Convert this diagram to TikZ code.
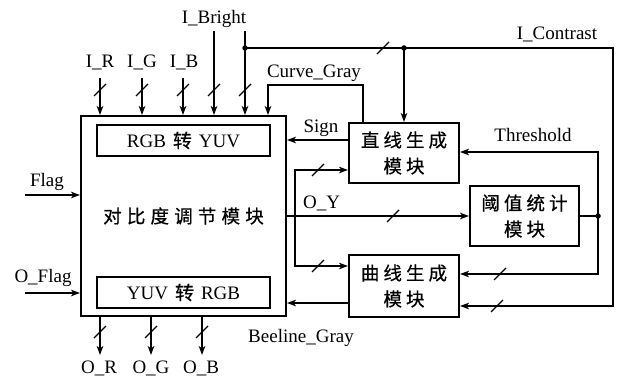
\documentclass[tikz,border=0pt]{standalone}
\usepackage{fontspec}
\setmainfont{Liberation Serif}
\newfontfamily\cjk[LetterSpace=22,FakeBold=0.6]{Noto Sans CJK SC}
\newfontfamily\cjkm[LetterSpace=28,FakeBold=0.6]{Noto Sans CJK SC}
\newfontfamily\cjkn[FakeBold=0.6]{Noto Sans CJK SC}
\usetikzlibrary{arrows.meta,calc}
\tikzset{
  arr/.style={-{Stealth[length=9pt,width=6.5pt,inset=2.5pt]}},
  box/.style={draw, line width=2pt, inner sep=0pt, align=center},
  lbl/.style={inner sep=0pt, anchor=base, font=\fontsize{19}{21}\selectfont},
  zh/.style={font=\fontsize{18.5}{26}\selectfont\cjk},
  dotn/.style={circle, fill, inner sep=0pt, minimum size=5.5pt},
  slashmark/.pic={\draw[line width=1.3pt] (-6,6) -- (6,-6);}
}
\begin{document}
\begin{tikzpicture}[x=1pt,y=-1pt,line width=1.8pt]
\useasboundingbox (0,0) rectangle (620,379);
% blocks
\node[box, minimum width=205pt, minimum height=200pt, font=\fontsize{18.5}{26}\selectfont\cjkm] (main) at (183.5,216) {对比度调节模块};
\node[box, minimum width=173pt, minimum height=31pt, font=\fontsize{19}{21}\selectfont] (rgb) at (183.5,140.5) {RGB\hspace{7pt}{\cjkn 转}\hspace{7pt}YUV};
\node[box, minimum width=173pt, minimum height=31pt, font=\fontsize{19}{21}\selectfont] (yuv) at (183.5,292.5) {YUV\hspace{7pt}{\cjkn 转}\hspace{7pt}RGB};
\node[box, zh, minimum width=110pt, minimum height=60pt] (lin) at (404,153) {直线生成\\模块};
\node[box, zh, minimum width=109pt, minimum height=60pt] (thr) at (524.5,216) {阈值统计\\模块};
\node[box, zh, minimum width=110pt, minimum height=62pt] (cur) at (404,286) {曲线生成\\模块};
% labels
\node[lbl] (tIR) at (100,68) {I\_R};
\node[lbl] (tIG) at (142,68) {I\_G};
\node[lbl] (tIB) at (184,68) {I\_B};
\node[lbl] (tIBr) at (214,24) {I\_Bright};
\node[lbl] (tCG) at (314,78) {Curve\_Gray};
\node[lbl] (tIC) at (557,40) {I\_Contrast};
\node[lbl] (tTh) at (533,142) {Threshold};
\node[lbl] (tSg) at (321,133) {Sign};
\node[lbl] (tOY) at (321.5,208) {O\_Y};
\node[lbl] (tFl) at (47,187) {Flag};
\node[lbl] (tOF) at (43,282) {O\_Flag};
\node[lbl] (tBG) at (301,342) {Beeline\_Gray};
\node[lbl] (tOR) at (99,373) {O\_R};
\node[lbl] (tOG) at (151,373) {O\_G};
\node[lbl] (tOB) at (201,373) {O\_B};
% top inputs
\coordinate (iR) at (100,78);
\coordinate (iG) at (142,78);
\coordinate (iB) at (183,78);
\coordinate (iBr) at (214,31);
\coordinate (iCt) at (245,31);
\draw[arr] (iR) -- (iR |- main.north);
\draw[arr] (iG) -- (iG |- main.north);
\draw[arr] (iB) -- (iB |- main.north);
\draw[arr] (iBr) -- (iBr |- main.north);
\draw[arr] (iCt) -- (iCt |- main.north);
\pic at (100,90) {slashmark};
\pic at (142,90) {slashmark};
\pic at (183,90) {slashmark};
\pic at (214,90) {slashmark};
\pic at (245,90) {slashmark};
% I_Contrast distribution
\node[dotn] (d1) at (245,48) {};
\node[dotn] (d2) at (404,48) {};
\coordinate (ctr) at (613,48);
\coordinate (c306) at (613,306);
\draw (d1.center) -- (d2.center);
\draw[arr] (d2.center) -- (ctr) -- (c306) -- (c306 -| cur.east);
\draw[arr] (d2.center) -- (lin.north);
\pic at (383,48) {slashmark};
\pic at (497,306) {slashmark};
% Curve_Gray
\coordinate (cg1) at (363,85);
\coordinate (cg2) at (268,85);
\draw[arr] (cg1 |- lin.north) -- (cg1) -- (cg2) -- (cg2 |- main.north);
% Sign
\draw[arr] (lin.west |- 0,140) -- (main.east |- 0,140);
% O_Y
\draw[arr] (main.east |- thr.west) -- (thr.west);
\pic at (393,216) {slashmark};
% branch to line/curve blocks
\coordinate (br) at (295,216);
\draw[arr] (br) |- (lin.west |- 0,170);
\draw[arr] (br) |- (cur.west |- 0,266);
\pic at (318,170) {slashmark};
\pic at (318,266) {slashmark};
% Threshold
\node[dotn] (d3) at (598,216) {};
\draw (thr.east) -- (d3.center);
\draw[arr] (d3.center) |- (lin.east |- 0,152);
\draw[arr] (d3.center) |- (cur.east |- 0,274);
\pic at (500,274) {slashmark};
% Beeline_Gray
\draw[arr] (cur.west |- 0,303) -- (main.east |- 0,303);
% Flags
\coordinate (fl) at (25,195);
\coordinate (ofl) at (25,293);
\draw[arr] (fl) -- (fl -| main.west);
\draw[arr] (ofl) -- (ofl -| main.west);
% outputs
\coordinate (oR) at (100,355);
\coordinate (oG) at (151,355);
\coordinate (oB) at (202,355);
\draw[arr] (oR |- main.south) -- (oR);
\draw[arr] (oG |- main.south) -- (oG);
\draw[arr] (oB |- main.south) -- (oB);
\pic at (100,332) {slashmark};
\pic at (151,332) {slashmark};
\pic at (202,332) {slashmark};
\end{tikzpicture}
\end{document}
